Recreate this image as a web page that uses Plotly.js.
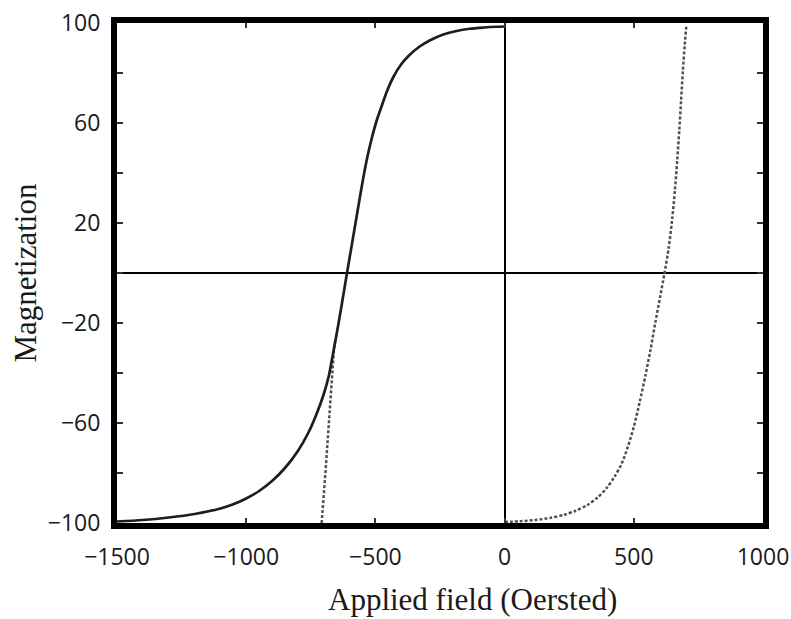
<!DOCTYPE html>
<html>
<head>
<meta charset="utf-8">
<script src="https://cdn.plot.ly/plotly-3.0.1.min.js"></script>
<style>
  html, body { margin: 0; padding: 0; background: #ffffff; }
  #chart { width: 791px; height: 619px; }
</style>
</head>
<body>
<div id="chart"></div>
<script>
// Major branch (solid line)
const solidField = [-1500,-1400,-1300,-1200,-1100,-1050,-1000,-950,-900,-850,-800,-760,-730,-700,-680,-660,-645,-630,-610,-590,-572,-553,-534,-515,-495,-475,-456,-430,-400,-370,-330,-290,-240,-190,-135,-80,-30,0];
const solidMag   = [-99.4,-98.8,-97.8,-96.4,-94.2,-92.5,-90.2,-87.2,-83.2,-78.0,-71.2,-64.0,-57.0,-48.5,-41.0,-30.0,-21.5,-12.5,0,12,23,34.5,45,53.5,61,67,72.5,78.5,83.5,87,90.5,93,95.3,96.7,97.7,98.2,98.5,98.6];

// Left dotted branch (rises steeply, joins the solid branch)
const dotLeftField = [-708,-700,-692,-684,-676,-668,-660,-656];
const dotLeftMag   = [-100,-90,-78,-66,-53,-41,-30,-27.5];

// Right dotted branch
const dotRightField = [0,60,120,180,230,275,320,360,395,425,452,477,500,523,545,565,583,601,619,635,648,659,668,676,683,690,697,703];
const dotRightMag   = [-99.6,-99.3,-98.8,-97.9,-96.7,-95.1,-92.8,-89.8,-86,-81.5,-76.5,-69.5,-61.5,-51.5,-41,-30.5,-20,-10,0,10,21,33,45,57,69,81,91,98.5];

// Axis ticks
const xTickVals  = [-1500,-1000,-500,0,500,1000];
const xTickText  = ['\u22121500','\u22121000','\u2212500','0','500','1000'];
const yTickVals  = [-100,-80,-60,-40,-20,0,20,40,60,80,100];
const yTickText  = ['\u2212100','','\u221260','','\u221220','','20','','60','','100'];

const xTitle = 'Applied field (Oersted)';
const yTitle = 'Magnetization';

const dotStyle = {color: '#505050', width: 2.5, dash: '3px,2px'};

const traces = [
  {x: dotLeftField, y: dotLeftMag, mode: 'lines', line: dotStyle, hoverinfo: 'skip'},
  {x: dotRightField, y: dotRightMag, mode: 'lines', line: Object.assign({shape: 'spline', smoothing: 0.8}, dotStyle), hoverinfo: 'skip'},
  {x: solidField, y: solidMag, mode: 'lines', line: {color: '#1e1e1e', width: 2.7, shape: 'spline', smoothing: 0.8}, hoverinfo: 'skip'}
];

const tickFont = {family: '"Open Sans", "DejaVu Sans", sans-serif', size: 23, color: '#1a1a1a'};
const titleFont = {family: '"Liberation Serif", "Times New Roman", serif', size: 31, color: '#1a1a1a'};

const layout = {
  width: 791, height: 619,
  margin: {l: 117, r: 28, t: 23, b: 96},
  paper_bgcolor: '#ffffff',
  plot_bgcolor: '#ffffff',
  showlegend: false,
  xaxis: {
    range: [-1500, 1000],
    tickvals: xTickVals, ticktext: xTickText,
    tickfont: tickFont,
    ticks: 'inside', ticklen: 5, tickwidth: 2, tickcolor: '#333333',
    showline: true, linecolor: '#000000', linewidth: 6, mirror: 'ticks',
    showgrid: false,
    zeroline: true, zerolinecolor: '#000000', zerolinewidth: 2,
    ticklabelstandoff: 8,
    fixedrange: true
  },
  yaxis: {
    range: [-100, 100],
    tickvals: yTickVals, ticktext: yTickText,
    tickfont: tickFont,
    ticks: 'inside', ticklen: 6, tickwidth: 2, tickcolor: '#333333',
    showline: true, linecolor: '#000000', linewidth: 6, mirror: 'ticks',
    showgrid: false,
    zeroline: true, zerolinecolor: '#000000', zerolinewidth: 2,
    ticklabelstandoff: 6,
    fixedrange: true
  },
  annotations: [
    {text: xTitle, xref: 'paper', yref: 'paper', x: 0.551, y: -0.152,
     xanchor: 'center', yanchor: 'middle', showarrow: false, font: titleFont},
    {text: yTitle, xref: 'paper', yref: 'paper', x: -0.143, y: 0.5, textangle: -90,
     xanchor: 'center', yanchor: 'middle', showarrow: false, font: titleFont}
  ]
};

Plotly.newPlot('chart', traces, layout, {displayModeBar: false, staticPlot: true});
</script>
</body>
</html>
